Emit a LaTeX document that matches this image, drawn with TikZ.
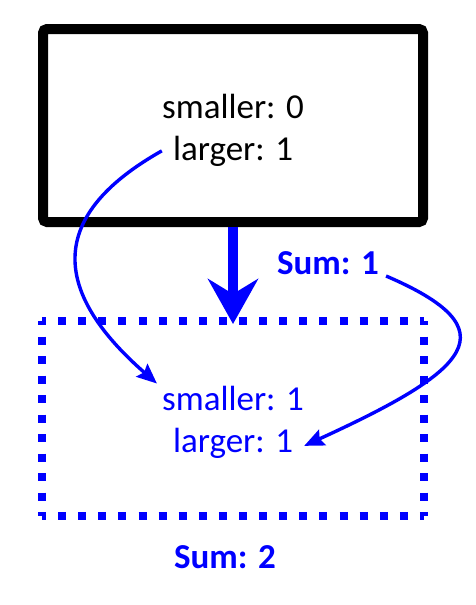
\documentclass[tikz,border=0pt]{standalone}
\usepackage{fontspec}
\setmainfont{Carlito}
\usetikzlibrary{arrows.meta}
\definecolor{pblue}{RGB}{0,0,255}
\begin{document}
\begin{tikzpicture}[x=1pt,y=-1pt,
  lbl/.style={anchor=base,inner sep=0pt,font=\fontsize{35}{42}\selectfont},
  sumlbl/.style={lbl,font=\fontsize{35}{42}\selectfont\bfseries,text=pblue},
  solidbox/.style={draw=black,line width=10pt,rounded corners=4pt,minimum width=380pt,minimum height=193pt,inner sep=0pt},
  dotbox/.style={minimum width=382pt,minimum height=195pt,inner sep=0pt,outer sep=0pt},
  dotside/.style={draw=pblue,line width=8pt,dash pattern=on 8pt off #1pt,dash phase=4pt},
  bigarrow/.style={draw=pblue,line width=10pt,-{Stealth[length=45pt,width=50pt,inset=15pt]}},
  thinarrow/.style={draw=pblue,line width=3.4pt,-{Stealth[length=20pt,width=17pt,inset=3pt]}}]
\useasboundingbox (0,0) rectangle (475,605);
\node[solidbox] (top) at (233,125.5) {};
\node[dotbox] (bot) at (233,418.5) {};
\draw[dotside=12.105] (bot.north west) -- (bot.north east);
\draw[dotside=12.105] (bot.south west) -- (bot.south east);
\draw[dotside=11.5] (bot.north west) -- (bot.south west);
\draw[dotside=11.5] (bot.north east) -- (bot.south east);
\node[lbl] (ts) at (233,118) {smaller: 0};
\node[lbl] (tl) at (233,160) {larger: 1};
\node[lbl,text=pblue] (bs) at (233,410) {smaller: 1};
\node[lbl,text=pblue] (bl) at (233,452) {larger: 1};
\node[sumlbl] (s1) at (328,274) {Sum: 1};
\node[sumlbl] (s2) at (225,568) {Sum: 2};
\draw[bigarrow] (top.south) -- ([yshift=-3pt]bot.north);
\draw[thinarrow] ([xshift=-11pt]tl.west) .. controls (48,215) and (50,290) .. ([xshift=-5pt,yshift=2pt]bs.north west);
\draw[thinarrow] ([xshift=7pt,yshift=-2pt]s1.base east) .. controls (512,330) and (470,370) .. ([xshift=11pt,yshift=-3pt]bl.east);
\end{tikzpicture}
\end{document}
